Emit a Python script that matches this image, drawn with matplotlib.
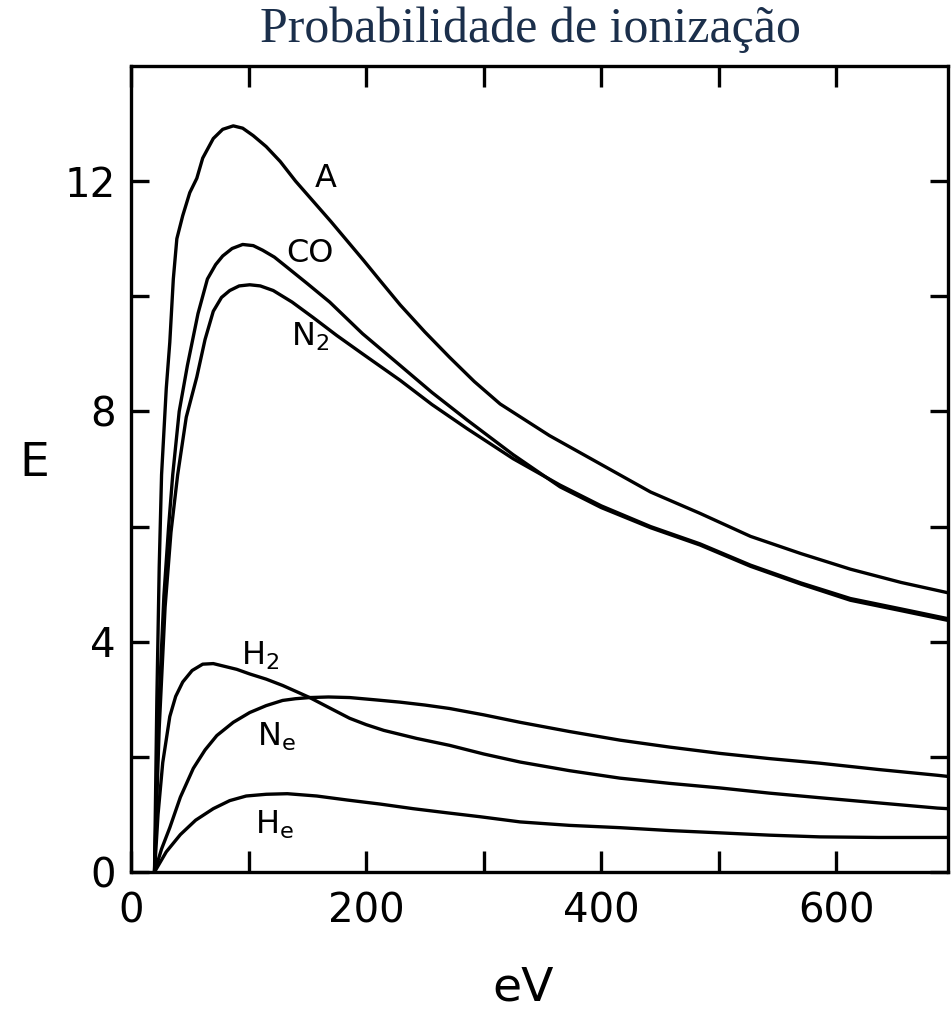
import matplotlib
matplotlib.use("Agg")
import matplotlib.pyplot as plt

# energies (eV) and values
a_ev = [20, 22, 24, 26, 30, 33, 36, 39, 44, 50, 56, 61, 70, 78, 87, 95, 104, 115, 127, 140, 155,
        170, 184, 198, 212, 229, 250, 271, 292, 314, 356, 399, 442, 484, 527, 570, 612, 655, 695]
a_e = [0, 3.0, 5.3, 6.9, 8.4, 9.2, 10.3, 11.0, 11.4, 11.8, 12.05, 12.4, 12.74, 12.9, 12.96, 12.92, 12.79,
       12.6, 12.34, 12.0, 11.65, 11.3, 10.96, 10.62, 10.27, 9.85, 9.38, 8.94, 8.52, 8.13, 7.58, 7.09,
       6.6, 6.23, 5.83, 5.53, 5.26, 5.03, 4.85]

co_ev = [20, 22, 24, 28, 32, 35.5, 41, 48, 57, 65, 72, 78, 86, 95, 104, 112, 122, 133, 150, 169,
         197, 226, 256, 286, 325, 365, 400, 442, 484, 527, 570, 612, 655, 695]
co_e = [0, 1.6, 3.0, 4.8, 6.0, 6.9, 8.0, 8.8, 9.7, 10.3, 10.55, 10.7, 10.83, 10.9, 10.88, 10.8, 10.68,
        10.5, 10.22, 9.9, 9.35, 8.85, 8.33, 7.85, 7.25, 6.69, 6.33, 5.98, 5.68, 5.31, 5.0, 4.72, 4.54, 4.37]

n2_ev = [20, 22, 24, 29, 34, 39.7, 47, 56, 63, 70, 77, 84, 92, 101, 110, 121, 137, 155, 175, 197,
         229, 256, 286, 325, 365, 400, 442, 484, 527, 570, 612, 655, 695]
n2_e = [0, 1.3, 2.5, 4.6, 5.9, 6.9, 7.9, 8.6, 9.25, 9.74, 9.98, 10.1, 10.18, 10.2, 10.18, 10.1, 9.9,
        9.63, 9.32, 9.0, 8.54, 8.12, 7.7, 7.18, 6.72, 6.36, 6.0, 5.7, 5.33, 5.02, 4.75, 4.57, 4.4]

h2_ev = [20, 23, 27, 33, 38, 44, 52, 61, 70, 78, 90, 101, 115, 129, 140, 152, 168, 186, 200, 215,
         243, 271, 300, 331, 373, 416, 458, 501, 543, 586, 636, 686, 695]
h2_e = [0, 1.0, 1.9, 2.7, 3.05, 3.3, 3.5, 3.61, 3.62, 3.58, 3.52, 3.44, 3.35, 3.24, 3.14, 3.03, 2.86,
        2.67, 2.56, 2.46, 2.32, 2.2, 2.05, 1.91, 1.76, 1.63, 1.54, 1.46, 1.37, 1.29, 1.2, 1.11, 1.1]

ne_ev = [20, 26, 33, 42, 53, 63, 73, 87, 101, 115, 129, 140, 152, 168, 186, 208, 229, 250, 271,
         300, 331, 373, 416, 458, 501, 543, 586, 636, 686, 695]
ne_e = [0, 0.4, 0.77, 1.3, 1.8, 2.12, 2.37, 2.6, 2.77, 2.89, 2.98, 3.01, 3.03, 3.04, 3.03, 2.99, 2.95,
        2.9, 2.84, 2.73, 2.6, 2.44, 2.29, 2.17, 2.06, 1.97, 1.89, 1.78, 1.68, 1.66]

he_ev = [20, 30, 42, 55, 70, 84, 98, 115, 133, 158, 184, 212, 240, 268, 297, 331, 373, 416, 458,
         501, 543, 586, 636, 695]
he_e = [0, 0.35, 0.65, 0.9, 1.1, 1.24, 1.32, 1.35, 1.36, 1.32, 1.25, 1.18, 1.1, 1.03, 0.96, 0.87,
        0.81, 0.77, 0.72, 0.68, 0.64, 0.61, 0.6, 0.6]

labels = ["A", "CO", "N$_2$", "H$_2$", "N$_{\\rm e}$", "H$_{\\rm e}$"]
label_ev = [166, 152, 152, 110, 124, 122]
label_e = [12.05, 10.75, 9.3, 3.76, 2.34, 0.82]

x_ticks = [0, 100, 200, 300, 400, 500, 600]
x_labels = ["0", "", "200", "", "400", "", "600"]
y_ticks = [0, 2, 4, 6, 8, 10, 12]
y_labels = ["0", "", "4", "", "8", "", "12"]

fig = plt.figure(figsize=(9.52, 10.09), dpi=100)
ax = fig.add_axes([131 / 952, 137 / 1009, 817 / 952, 806 / 1009])

for xs, ys in [(a_ev, a_e), (co_ev, co_e), (n2_ev, n2_e), (h2_ev, h2_e), (ne_ev, ne_e), (he_ev, he_e)]:
    ax.plot(xs, ys, color="black", linewidth=2.4, solid_joinstyle="round", solid_capstyle="round")

for text, x, y in zip(labels, label_ev, label_e):
    ax.text(x, y, text, fontsize=23, ha="center", va="center", color="black")

ax.set_xlim(0, 695)
ax.set_ylim(0, 14)
ax.set_xticks(x_ticks)
ax.set_xticklabels(x_labels)
ax.set_yticks(y_ticks)
ax.set_yticklabels(y_labels)
ax.tick_params(axis="both", direction="in", width=2.4, labelsize=29, top=True, right=True)
ax.tick_params(axis="x", length=15, pad=14)
ax.tick_params(axis="y", length=13, pad=11)
for spine in ax.spines.values():
    spine.set_linewidth(2.4)

fig.text(34 / 952, 1 - 463 / 1009, "E", fontsize=34, ha="center", va="center")
fig.text(523 / 952, 1 - 988 / 1009, "eV", fontsize=34, ha="center", va="center")
fig.text(530 / 952, 1 - 30 / 1009, "Probabilidade de ionização", fontsize=36,
         family="Liberation Serif", color="#1b2f4b", ha="center", va="center")

fig.savefig("out.png", dpi=100)
